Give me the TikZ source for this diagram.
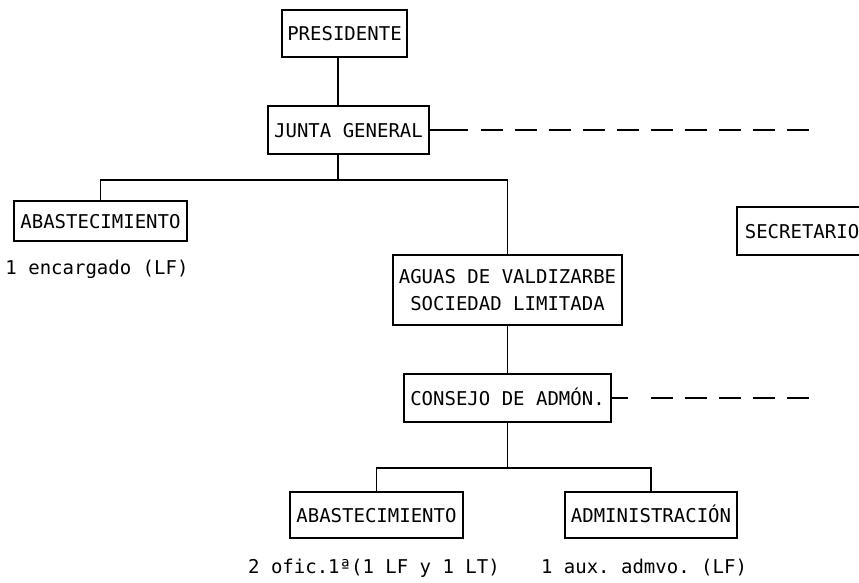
\documentclass[tikz,border=0pt]{standalone}
\usepackage{fontspec}
\setmonofont{DejaVu Sans Mono}
\newcommand{\letra}{\ttfamily\fontsize{19}{27}\selectfont}

\begin{document}
\begin{tikzpicture}[x=1pt,y=-1pt,line width=1.2pt,
    caja/.style={draw,inner sep=0pt,font=\letra},
    uno/.style={caja,text height=14pt,text depth=0pt},
    rotulo/.style={anchor=base,font=\letra},
    guiones/.style={dash pattern=on 22pt off 12pt}]
    \useasboundingbox (0,0) rectangle (859,582);
    \node[uno,minimum width=125pt,minimum height=47pt] (presi) at (344.5,33.5) {PRESIDENTE};
    \node[uno,minimum width=161pt,minimum height=48pt] (junta) at (348.5,130) {JUNTA GENERAL};
    \node[uno,minimum width=173pt,minimum height=40pt] (abast1) at (100.5,221) {ABASTECIMIENTO};
    \node[caja,minimum width=229pt,minimum height=70pt,align=center] (aguas) at (507.5,290)
        {AGUAS DE VALDIZARBE\\SOCIEDAD LIMITADA};
    \node[uno,minimum width=207pt,minimum height=48pt] (consejo) at (507.5,398) {CONSEJO DE ADMÓN.};
    \node[uno,minimum width=173pt,minimum height=46pt] (abast2) at (376.5,515) {ABASTECIMIENTO};
    \node[uno,minimum width=172pt,minimum height=46pt] (admin) at (651,515) {ADMINISTRACIÓN};
    \node[uno,minimum width=130pt,minimum height=48pt] (secre) at (802,231) {SECRETARIO}; % обрезан справа
    \node[rotulo] (enc) at (97,274) {1 encargado (LF)};
    \node[rotulo] (ofic) at (374,573) {2 ofic.1ª(1 LF y 1 LT)};
    \node[rotulo] (aux) at (644,573) {1 aux. admvo. (LF)};
    % ветви
    \coordinate (cruce) at (338,180);
    \coordinate (rama) at (507.5,468);
    \draw (presi.south -| cruce) -- (junta.north -| cruce);
    \draw (junta.south -| cruce) -- (cruce) -| (abast1.north);
    \draw (cruce) -| (aguas.north);
    \draw (aguas.south) -- (consejo.north);
    \draw (consejo.south) -- (rama) -| (abast2.north);
    \draw (rama) -| (admin.north);
    % пунктир вправо
    \coordinate (fin1) at (812,130);
    \coordinate (fin2) at (810,398);
    \draw (junta.east) -- ++(38,0) coordinate (j1);
    \draw[guiones] ([xshift=13pt]j1) -- (fin1);
    \draw (consejo.east) -- ++(16,0) coordinate (c1);
    \draw[guiones] ([xshift=23pt]c1) -- (fin2);
\end{tikzpicture}
\end{document}
